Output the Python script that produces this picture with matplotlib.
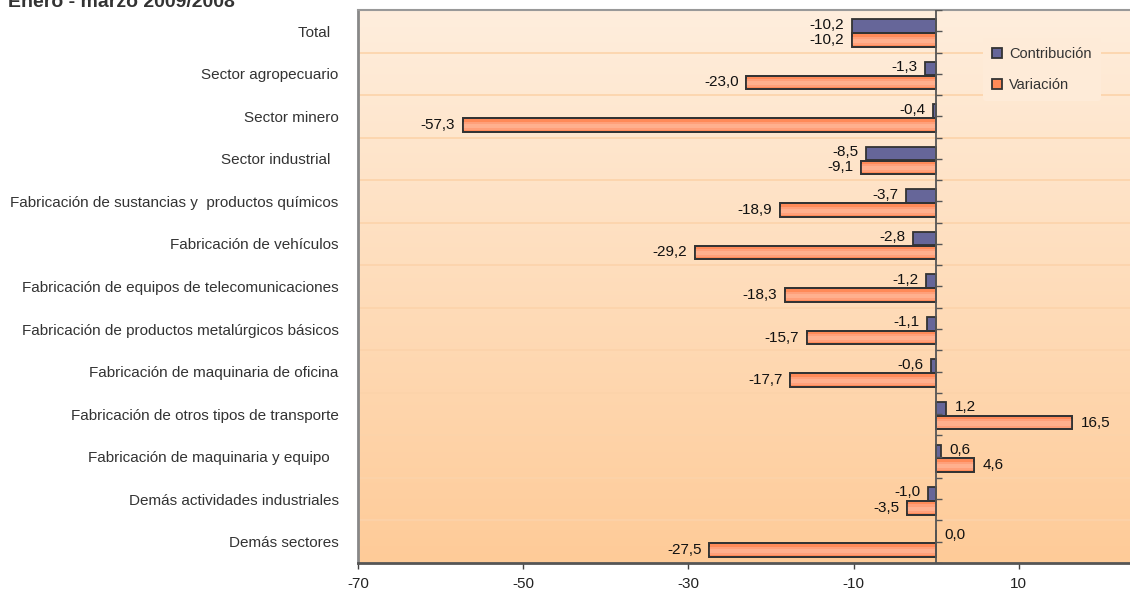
import numpy as np
import matplotlib
matplotlib.use("Agg")
import matplotlib.pyplot as plt
from matplotlib.colors import to_rgb

# Data
categorias = ["Total  ", "Sector agropecuario", "Sector minero", "Sector industrial  ",
              "Fabricación de sustancias y  productos químicos", "Fabricación de vehículos",
              "Fabricación de equipos de telecomunicaciones",
              "Fabricación de productos metalúrgicos básicos",
              "Fabricación de maquinaria de oficina",
              "Fabricación de otros tipos de transporte",
              "Fabricación de maquinaria y equipo  ",
              "Demás actividades industriales", "Demás sectores"]
contribucion = [-10.2, -1.3, -0.4, -8.5, -3.7, -2.8, -1.2, -1.1, -0.6, 1.2, 0.6, -1.0, 0.0]
variacion = [-10.2, -23.0, -57.3, -9.1, -18.9, -29.2, -18.3, -15.7, -17.7, 16.5, 4.6, -3.5, -27.5]
x_ticks = [-70, -50, -30, -10, 10]

plt.rcParams['font.family'] = ['Liberation Sans', 'DejaVu Sans']

W, H = 1130, 591
fig = plt.figure(figsize=(W / 100, H / 100), dpi=100)
ax = fig.add_axes([358 / W, 28 / H, (W - 358) / W, 553 / H])

# gradient background
top_c = np.array(to_rgb('#FFEEDD'))
bot_c = np.array(to_rgb('#FECB98'))
t = np.linspace(0, 1, 256)[:, None, None]
grad = top_c * (1 - t) + bot_c * t
ax.imshow(grad, extent=[0, 1, 0, 1], transform=ax.transAxes, aspect='auto', zorder=0)

y = np.arange(len(categorias))
h = 0.32
ax.barh(y - 0.125, contribucion, height=h, color='#666699', edgecolor='#333333',
        linewidth=1.3, zorder=3, label='Contribución')
ax.barh(y + 0.2, variacion, height=h, color='#FF8A58', edgecolor='#333333',
        linewidth=1.3, zorder=3, label='Variación')
# lighter stripes to mimic the shaded fill
ax.barh(y + 0.2 + 0.02, variacion, height=h * 0.6, color='#FFA07A', linewidth=0, zorder=3.2)
ax.barh(y + 0.2 + 0.02, variacion, height=h * 0.3, color='#FFB08E', linewidth=0, zorder=3.3)
ax.barh(y + 0.2, variacion, height=h, facecolor='none', edgecolor='#333333',
        linewidth=1.3, zorder=3.4)

def fmt(v):
    return f"{v:.1f}".replace('.', ',')

for yy, v in zip(y - 0.125, contribucion):
    if v < 0:
        ax.annotate(fmt(v), (v, yy), xytext=(-5.5, 1), textcoords='offset points',
                    ha='right', va='center', fontsize=11, color='#111111', zorder=5)
    else:
        ax.annotate(fmt(v), (v, yy), xytext=(6, 1), textcoords='offset points',
                    ha='left', va='center', fontsize=11, color='#111111', zorder=5)
for yy, v in zip(y + 0.2, variacion):
    if v < 0:
        ax.annotate(fmt(v), (v, yy), xytext=(-5.5, 0), textcoords='offset points',
                    ha='right', va='center', fontsize=11, color='#111111', zorder=5)
    else:
        ax.annotate(fmt(v), (v, yy), xytext=(6, 0), textcoords='offset points',
                    ha='left', va='center', fontsize=11, color='#111111', zorder=5)

# zero line with small ticks
ax.axvline(0, color='#555555', lw=1.3, zorder=4)
ax.plot(np.zeros(len(y)), y, ls='none', marker=1, markersize=4, color='#555555', zorder=4)
ax.plot(np.zeros(len(y) + 1), np.arange(len(y) + 1) - 0.5, ls='none', marker=1,
        markersize=4, color='#555555', zorder=4)

ax.set_xlim(-70, -70 + (W - 358) / 8.26)
ax.set_ylim(len(y) - 0.5, -0.5)

ax.set_yticks(y)
ax.set_yticklabels(categorias, fontsize=11, color='#333333')
ax.tick_params(axis='y', length=0, pad=14)
ax.set_yticks(np.arange(len(y)) + 0.5, minor=True)
ax.tick_params(axis='y', which='minor', length=0)
ax.grid(which='minor', axis='y', color='#FCD3AA', lw=1.2, zorder=1)

ax.set_xticks(x_ticks)
ax.set_xticklabels([str(v) for v in x_ticks], fontsize=11, color='#222222')
ax.tick_params(axis='x', length=4, width=1, color='#444444', pad=6)

ax.spines['right'].set_visible(False)
ax.spines['left'].set_color('#888888')
ax.spines['left'].set_linewidth(2)
ax.spines['top'].set_color('#999999')
ax.spines['top'].set_linewidth(1.5)
ax.spines['bottom'].set_color('#555555')
ax.spines['bottom'].set_linewidth(2)

leg = ax.legend(loc='upper left', bbox_to_anchor=((983 - 358) / (W - 358), 1 - 28 / 553),
                frameon=True, facecolor='#FEEBD8', edgecolor='none', framealpha=1,
                fontsize=10.5, handlelength=0.7, handleheight=0.7, labelspacing=1.2,
                borderpad=0.6, handletextpad=0.5, borderaxespad=0)
leg.set_zorder(6)
for txt in leg.get_texts():
    txt.set_color('#333333')

# title is partly cut off at the top, as in the source image
fig.text(8 / W, 1 - 7 / H, "Enero - marzo 2009/2008", fontsize=14, fontweight='bold',
         color='#333333', ha='left', va='baseline')

fig.savefig("out.png", dpi=100)
